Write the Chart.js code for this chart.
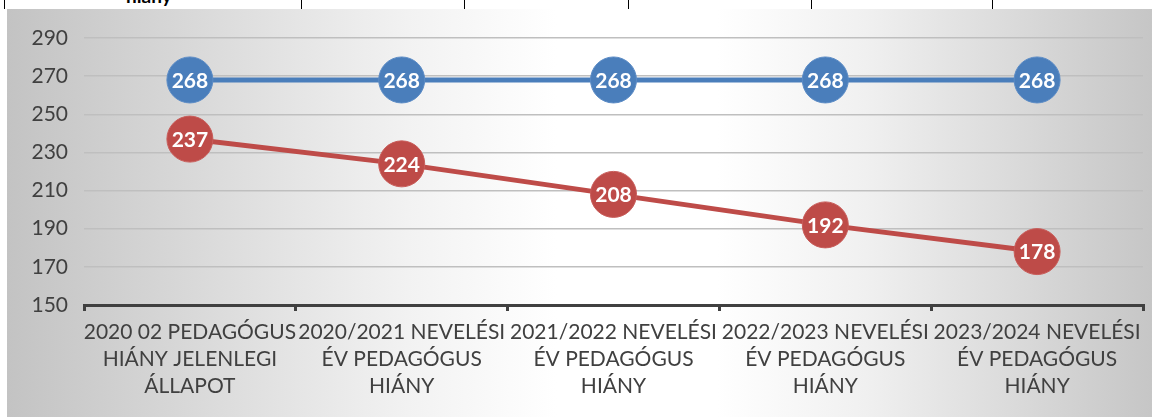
<!DOCTYPE html>
<html>
<head>
<meta charset="utf-8">
<script src="https://cdn.jsdelivr.net/npm/chart.js@4.4.0/dist/chart.umd.min.js"></script>
<style>
  html, body { margin:0; padding:0; background:#fff; width:1159px; height:417px; overflow:hidden; }
  #top { position:absolute; left:0; top:0; width:1159px; height:9px; overflow:hidden; }
  #top .v { position:absolute; top:0; width:1px; height:9px; background:#000; }
  #top .t { position:absolute; left:126px; top:-16px; font:bold 19px Lato, sans-serif; color:#000; }
  #wrap { position:absolute; left:7px; top:9px; width:1145px; height:408px;
    background: linear-gradient(to right, #c3c3c3 0%, #f2f2f2 35%, #ffffff 48%, #ffffff 62%, #f0f0f0 75%, #c6c6c6 100%); }
</style>
</head>
<body>
<div id="top">
  <div class="t">hiány</div>
  <div class="v" style="left:4px"></div>
  <div class="v" style="left:301px"></div>
  <div class="v" style="left:464px"></div>
  <div class="v" style="left:628px"></div>
  <div class="v" style="left:811px"></div>
  <div class="v" style="left:992px"></div>
</div>
<div id="wrap"><canvas id="c" width="1145" height="408"></canvas></div>
<script>
const categories = [
  ["2020 02 PEDAGÓGUS", "HIÁNY JELENLEGI", "ÁLLAPOT"],
  ["2020/2021 NEVELÉSI", "ÉV PEDAGÓGUS", "HIÁNY"],
  ["2021/2022 NEVELÉSI", "ÉV PEDAGÓGUS", "HIÁNY"],
  ["2022/2023 NEVELÉSI", "ÉV PEDAGÓGUS", "HIÁNY"],
  ["2023/2024 NEVELÉSI", "ÉV PEDAGÓGUS", "HIÁNY"]
];
const seriesBlue = [268, 268, 268, 268, 268];
const seriesRed = [237, 224, 208, 192, 178];
const yMin = 150, yMax = 290, yStep = 20;

const labelPlugin = {
  id: 'pointLabels',
  afterDatasetsDraw(chart) {
    const ctx = chart.ctx;
    ctx.save();
    ctx.font = 'bold 21px Lato, sans-serif';
    ctx.fillStyle = '#ffffff';
    ctx.textAlign = 'center';
    ctx.textBaseline = 'middle';
    chart.data.datasets.forEach((ds, i) => {
      chart.getDatasetMeta(i).data.forEach((pt, j) => {
        ctx.fillText(String(ds.data[j]), pt.x, pt.y + 1);
      });
    });
    ctx.restore();
  }
};

new Chart(document.getElementById('c'), {
  type: 'line',
  data: {
    labels: categories,
    datasets: [
      { data: seriesBlue, borderColor: '#4A7EBB', backgroundColor: '#4A7EBB', borderWidth: 5,
        pointRadius: 23, pointBackgroundColor: '#4A7EBB', pointBorderColor: '#5B8BC5', pointBorderWidth: 1 },
      { data: seriesRed, borderColor: '#BE4B48', backgroundColor: '#BE4B48', borderWidth: 5,
        pointRadius: 23, pointBackgroundColor: '#BE4B48', pointBorderColor: '#C85C59', pointBorderWidth: 1 }
    ]
  },
  options: {
    responsive: false,
    animation: false,
    layout: { autoPadding: false, padding: { left: 0, top: 29, right: 9, bottom: 0 } },
    plugins: { legend: { display: false }, tooltip: { enabled: false } },
    scales: {
      x: {
        offset: true,
        grid: { offset: true, drawOnChartArea: false, drawTicks: true, tickLength: 6, color: '#404040', lineWidth: 3 },
        border: { display: true, color: '#404040', width: 3 },
        ticks: { color: '#404040', font: { family: 'Lato', size: 21, lineHeight: 1.29 }, maxRotation: 0, minRotation: 0, autoSkip: false, padding: 8 },
        afterFit(s) { s.height = 112; s.paddingLeft = 0; s.paddingRight = 0; }
      },
      y: {
        min: yMin, max: yMax,
        grid: { color: '#BFBFBF', lineWidth: 1.5, drawTicks: false },
        border: { display: false },
        ticks: { stepSize: yStep, color: '#404040', font: { family: 'Lato', size: 21 }, padding: 16 },
        afterFit(s) { s.width = 77; s.paddingTop = 0; s.paddingBottom = 0; }
      }
    }
  },
  plugins: [labelPlugin]
});
</script>
</body>
</html>
